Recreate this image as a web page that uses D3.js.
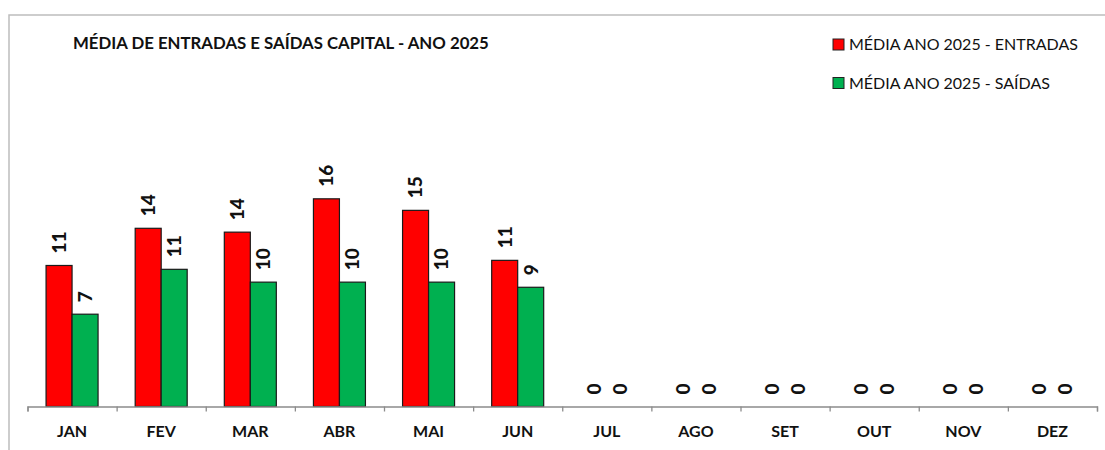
<!DOCTYPE html>
<html>
<head>
<meta charset="utf-8">
<script src="https://cdn.jsdelivr.net/npm/d3@7"></script>
<style>
  body { margin: 0; background: #fff; }
  text { font-family: Lato, "Open Sans", sans-serif; }
</style>
</head>
<body>
<script>
// chart data
const months = ["JAN","FEV","MAR","ABR","MAI","JUN","JUL","AGO","SET","OUT","NOV","DEZ"];
const entradas = [11.0, 13.9, 13.6, 16.2, 15.3, 11.4, 0, 0, 0, 0, 0, 0];
const saidas = [7.2, 10.7, 9.7, 9.7, 9.7, 9.3, 0, 0, 0, 0, 0, 0];
const seriesNames = ["MÉDIA ANO 2025 - ENTRADAS", "MÉDIA ANO 2025 - SAÍDAS"];
const seriesColors = ["#ff0000", "#00b050"];
const title = "MÉDIA DE ENTRADAS E SAÍDAS CAPITAL - ANO 2025";

const width = 1105, height = 450;
const left = 27.5, right = 1097, baseY = 406.5;

const svg = d3.select("body").append("svg")
  .attr("width", width)
  .attr("height", height);

// outer frame
svg.append("rect")
  .attr("x", 9).attr("y", 15)
  .attr("width", width + 20).attr("height", height + 20)
  .attr("fill", "none")
  .attr("stroke", "#bdbdbd")
  .attr("stroke-width", 1.5);

// scales
const x = d3.scaleBand().domain(months).range([left, right]).padding(0);
const groupW = 52;
const x1 = d3.scaleBand().domain([0, 1])
  .range([x.bandwidth() / 2 - groupW / 2, x.bandwidth() / 2 + groupW / 2]);
const y = d3.scaleLinear().domain([0, 25]).range([baseY, baseY - 25 * 12.82]);

const rows = months.map((m, i) => ({ month: m, vals: [entradas[i], saidas[i]] }));

const g = svg.selectAll("g.month")
  .data(rows)
  .enter()
  .append("g")
  .attr("class", "month")
  .attr("transform", d => "translate(" + x(d.month) + ",0)");

g.selectAll("rect")
  .data(d => d.vals.map((v, k) => ({ v: v, k: k })))
  .enter()
  .append("rect")
  .attr("x", d => x1(d.k))
  .attr("y", d => y(d.v))
  .attr("width", x1.bandwidth())
  .attr("height", d => baseY - y(d.v))
  .attr("fill", d => seriesColors[d.k])
  .attr("stroke", d => d.v > 0 ? "#1a1a1a" : "none")
  .attr("stroke-width", 1.2);

// value labels, rotated
g.selectAll("text.val")
  .data(d => d.vals.map((v, k) => ({ v: v, k: k })))
  .enter()
  .append("text")
  .attr("class", "val")
  .attr("transform", d => "translate(" + (x1(d.k) + x1.bandwidth() / 2) + "," + (y(d.v) - 12) + ") rotate(-90)")
  .attr("dy", "0.36em")
  .style("font-size", "19px")
  .style("font-weight", "900")
  .attr("fill", "#111")
  .text(d => d3.format(".0f")(d.v));

// axis line with ticks at band boundaries
const edges = d3.scaleLinear().domain([0, months.length]).range([left, right]);
svg.append("g")
  .attr("transform", "translate(0," + baseY + ")")
  .call(d3.axisBottom(edges).ticks(months.length).tickSize(5).tickSizeOuter(5).tickFormat(""))
  .call(a => a.selectAll("path,line").attr("stroke", "#8c8c8c").attr("stroke-width", 1.3));

// month labels
svg.append("g")
  .attr("transform", "translate(0," + baseY + ")")
  .call(d3.axisBottom(x).tickSize(0).tickPadding(19))
  .call(a => a.select(".domain").remove())
  .call(a => a.selectAll("text")
    .style("font-family", "Lato, sans-serif")
    .style("font-size", "16px")
    .style("font-weight", "bold")
    .attr("fill", "#111"));

// title
svg.append("text")
  .attr("x", 73).attr("y", 48.5)
  .style("font-size", "16.8px")
  .style("font-weight", "bold")
  .attr("fill", "#111")
  .text(title);

// legend
const lg = svg.selectAll("g.legend")
  .data(seriesNames)
  .enter()
  .append("g")
  .attr("class", "legend")
  .attr("transform", (d, i) => "translate(833," + (39 + i * 38.5) + ")");

lg.append("rect")
  .attr("width", 11).attr("height", 11)
  .attr("fill", (d, i) => seriesColors[i])
  .attr("stroke", "#222")
  .attr("stroke-width", 1);

lg.append("text")
  .attr("x", 16).attr("y", 11)
  .style("font-size", "16px")
  .attr("fill", "#111")
  .text(d => d);
</script>
</body>
</html>
